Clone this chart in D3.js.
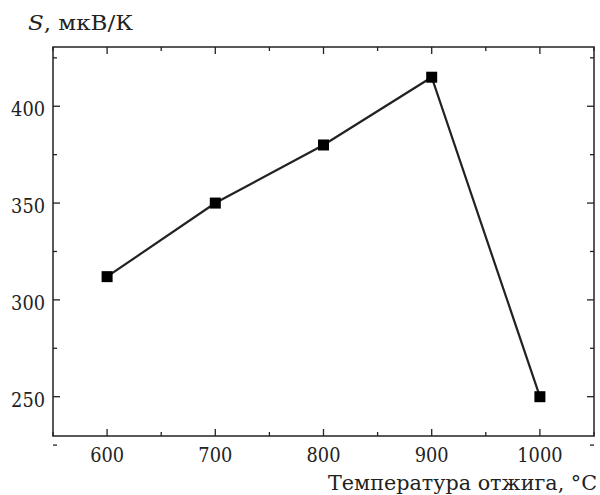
<!DOCTYPE html>
<html><head><meta charset="utf-8">
<script src="https://cdn.jsdelivr.net/npm/d3@7"></script>
<style>body{margin:0;background:#fff}svg{display:block}</style>
</head><body><svg id="c" width="600" height="495"></svg>
<script>
const temps = [600, 700, 800, 900, 1000];
const seebeck = [312, 350, 380, 415, 250];
const xTicks = [600, 700, 800, 900, 1000];
const yTicks = [250, 300, 350, 400];
const xMinor = [550, 650, 750, 850, 950, 1050];
const yMinor = [225, 275, 325, 375, 425];

const FONT = "DejaVu Serif";
const svg = d3.select("#c");
const L = 53, R = 594, T = 47, B = 436;
const x = d3.scaleLinear().domain([550, 1050]).range([L, R]);
const y = d3.scaleLinear().domain([229.7, 430.6]).range([B, T]);
const col = "#222";

const tg = svg.append("g").attr("stroke", col).attr("stroke-width", 1.3);
function xt(vals, len){
  tg.append("g").selectAll("line").data(vals).join("line")
    .attr("x1", d => x(d)).attr("x2", d => x(d)).attr("y1", B).attr("y2", B - len);
  tg.append("g").selectAll("line").data(vals).join("line")
    .attr("x1", d => x(d)).attr("x2", d => x(d)).attr("y1", T).attr("y2", T + len);
}
function yt(vals, len){
  tg.append("g").selectAll("line").data(vals).join("line")
    .attr("y1", d => y(d)).attr("y2", d => y(d)).attr("x1", L).attr("x2", L + len);
  tg.append("g").selectAll("line").data(vals).join("line")
    .attr("y1", d => y(d)).attr("y2", d => y(d)).attr("x1", R).attr("x2", R - len);
}
xt(xTicks, 7); yt(yTicks, 7); xt(xMinor, 4); yt(yMinor, 4);

svg.append("rect").attr("x", L).attr("y", T).attr("width", R - L).attr("height", B - T)
  .attr("fill", "none").attr("stroke", col).attr("stroke-width", 1.5);

const digW = 11.3;
svg.append("g").selectAll("text").data(xTicks).join("text")
  .attr("x", d => x(d)).attr("y", 462).attr("text-anchor", "middle")
  .style("font-family", FONT).attr("fill", col).style("font-size", "21px")
  .attr("textLength", d => String(d).length * digW).attr("lengthAdjust", "spacingAndGlyphs")
  .text(d => d);
svg.append("g").selectAll("text").data(yTicks).join("text")
  .attr("x", 45).attr("y", d => y(d) + 10).attr("text-anchor", "end")
  .style("font-family", FONT).attr("fill", col).style("font-size", "21px")
  .attr("textLength", d => String(d).length * digW).attr("lengthAdjust", "spacingAndGlyphs")
  .text(d => d);

const pts = temps.map((t, i) => [t, seebeck[i]]);
svg.append("path").datum(pts)
  .attr("d", d3.line().x(d => x(d[0])).y(d => y(d[1])))
  .attr("fill", "none").attr("stroke", col).attr("stroke-width", 2.2);
svg.append("g").selectAll("rect").data(pts).join("rect")
  .attr("x", d => x(d[0]) - 5.5).attr("y", d => y(d[1]) - 5.5)
  .attr("width", 11).attr("height", 11).attr("fill", "#000");

const yl = svg.append("text").attr("x", 28).attr("y", 30)
  .style("font-family", FONT).style("font-size", "21px").attr("fill", col)
  .attr("textLength", 105).attr("lengthAdjust", "spacingAndGlyphs");
yl.append("tspan").style("font-style", "italic").text("S");
yl.append("tspan").text(", мкВ/К");
svg.append("text").attr("x", 328).attr("y", 490)
  .style("font-family", FONT).style("font-size", "21px").attr("fill", col)
  .attr("textLength", 269).attr("lengthAdjust", "spacingAndGlyphs")
  .text("Температура отжига, °С");
</script></body></html>
